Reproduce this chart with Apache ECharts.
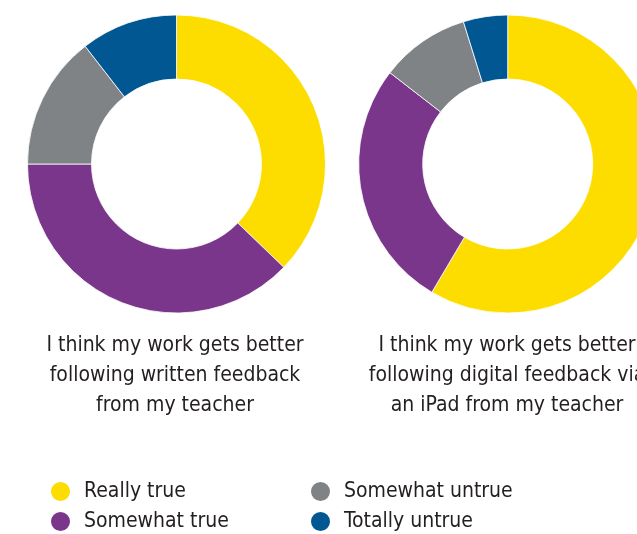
<!DOCTYPE html>
<html><head><meta charset="utf-8">
<script src="https://cdn.jsdelivr.net/npm/echarts@6/dist/echarts.min.js"></script>
<style>html,body{margin:0;padding:0;background:#fff}#c{width:637px;height:534px}</style>
</head><body><div id="c"></div>
<script>
const categories = ['Really true', 'Somewhat true', 'Somewhat untrue', 'Totally untrue'];
const writtenValues = [37.2, 37.8, 14.5, 10.5];
const digitalValues = [58.5, 27.0, 9.7, 4.8];
const chartTitles = [
  'I think my work gets better\nfollowing written feedback\nfrom my teacher',
  'I think my work gets better\nfollowing digital feedback via\nan iPad from my teacher'
];
const colors = ['#FDDC00', '#7A368B', '#7F8386', '#005792'];
const FONT = "'Liberation Sans Narrow', 'DejaVu Sans Condensed', sans-serif";

const chart = echarts.init(document.getElementById('c'), null, {renderer: 'canvas'});
function mk(vals, cx) {
  return {
    type: 'pie', radius: [85, 149], center: [cx, 164], startAngle: 90, clockwise: true,
    label: {show: false}, labelLine: {show: false}, silent: true,
    itemStyle: {borderColor: '#fff', borderWidth: 0.8},
    data: categories.map((n, i) => ({name: n, value: vals[i], itemStyle: {color: colors[i]}}))
  };
}
const titleStyle = {fontFamily: FONT, fontSize: 21, fontWeight: 'normal', color: '#231F20', lineHeight: 30};
const legendPos = [[49, 480], [49, 510], [309, 480], [309, 510]];
const legends = categories.map((n, i) => ({
  left: legendPos[i][0], top: legendPos[i][1], orient: 'horizontal', padding: 0,
  icon: 'circle', itemWidth: 21, itemHeight: 21, selectedMode: false,
  data: [n],
  textStyle: {fontFamily: FONT, fontSize: 21, color: '#231F20', padding: [0, 0, 0, 8]}
}));
chart.setOption({
  animation: false,
  color: colors,
  title: [
    {text: chartTitles[0], left: 175, top: 331, padding: 0, textAlign: 'center', textStyle: Object.assign({align: 'center'}, titleStyle)},
    {text: chartTitles[1], left: 507, top: 331, padding: 0, textAlign: 'center', textStyle: Object.assign({align: 'center'}, titleStyle)}
  ],
  legend: legends,
  series: [mk(writtenValues, 176.5), mk(digitalValues, 507.7)]
});
</script></body></html>
